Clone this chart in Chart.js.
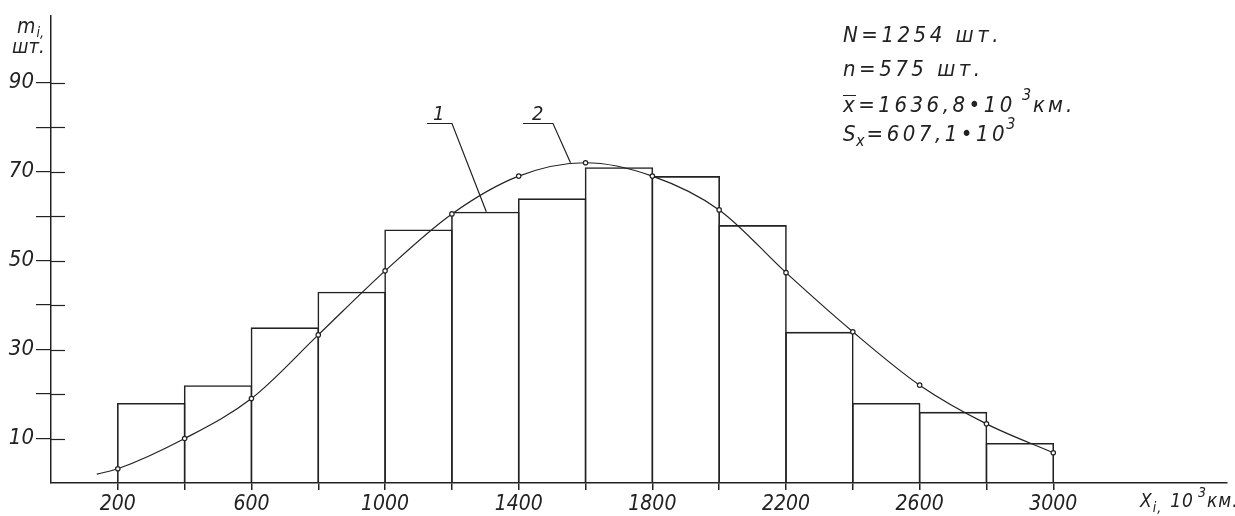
<!DOCTYPE html>
<html>
<head>
<meta charset="utf-8">
<script src="https://cdn.jsdelivr.net/npm/chart.js@4.4.1/dist/chart.umd.min.js"></script>
<style>
  html, body { margin: 0; padding: 0; background: #fff; }
  canvas { display: block; }
</style>
</head>
<body>
<canvas id="histChart" width="1235" height="516"></canvas>
<script>
// интервалы пробега (начало интервала), 10^3 км
const binStarts = [200, 400, 600, 800, 1000, 1200, 1400, 1600, 1800, 2000, 2200, 2400, 2600, 2800];
const binWidth = 200;
// эмпирические частоты m_i (сумма = 575)
const counts = [18, 22, 35, 43, 57, 61, 64, 71, 69, 58, 34, 18, 16, 9];
// теоретическая кривая (нормальный закон)
const curveX = [137, 200, 400, 600, 800, 1000, 1200, 1400, 1600, 1800, 2000, 2200, 2400, 2600, 2800, 3000];
const curveY = [2, 3.2, 10, 19, 33.3, 47.7, 60.5, 69, 72, 69, 61.4, 47.3, 34, 22, 13.3, 6.8];
// деления осей
const xTicks = [200, 400, 600, 800, 1000, 1200, 1400, 1600, 1800, 2000, 2200, 2400, 2600, 2800, 3000];
const xLabels = [200, 600, 1000, 1400, 1800, 2200, 2600, 3000];
const yTicks = [10, 20, 30, 40, 50, 60, 70, 80, 90];
const yLabels = [10, 30, 50, 70, 90];
const statLines = ["N=1254 шт.", "n=575 шт.", "=1636,8•10", "=607,1•10"];

const FONT = "'Liberation Sans Narrow', 'DejaVu Sans Condensed', 'Liberation Sans', sans-serif";
const INK = "#222";

function put(ctx, s, x, y, size, ls) {
  ctx.font = "italic " + size + "px " + FONT;
  ctx.letterSpacing = (ls || 0) + "px";
  ctx.fillText(s, x, y);
  return x + ctx.measureText(s).width;
}

const drawingPlugin = {
  id: "drawing",
  afterDraw(chart) {
    const ctx = chart.ctx;
    const xs = chart.scales.x, ys = chart.scales.y;
    const left = chart.chartArea.left;
    ctx.save();
    ctx.strokeStyle = INK;
    ctx.fillStyle = INK;
    ctx.textBaseline = "alphabetic";
    ctx.textAlign = "left";

    // деления оси Y внутри поля
    ctx.lineWidth = 1.2;
    yTicks.forEach(v => {
      const py = Math.round(ys.getPixelForValue(v)) + 0.5;
      ctx.beginPath();
      ctx.moveTo(left, py);
      ctx.lineTo(left + 14, py);
      ctx.stroke();
    });

    // подпись оси Y
    let x = put(ctx, "m", 17, 33, 21, 0);
    put(ctx, "i,", x + 1, 37, 14, 0);
    put(ctx, "шт.", 12, 53, 20, 0);

    // подпись оси X
    x = put(ctx, "X", 1140, 507, 19, 1);
    x = put(ctx, "i,", x, 512, 14, 1);
    x = put(ctx, "10", x + 8, 507, 19, 1);
    x = put(ctx, "3", x + 4, 497, 14, 1);
    put(ctx, "км.", x, 507, 19, 1);

    // статистика
    put(ctx, statLines[0], 843, 42, 22, 3.5);
    put(ctx, statLines[1], 843, 76, 22, 3.5);
    x = put(ctx, "x", 843, 112, 22, 3.5);
    ctx.lineWidth = 1;
    ctx.beginPath();
    ctx.moveTo(843, 95.5);
    ctx.lineTo(856, 95.5);
    ctx.stroke();
    x = put(ctx, statLines[2], x, 112, 22, 3.5);
    x = put(ctx, "3", x + 6, 100, 16, 2);
    put(ctx, "км.", x, 112, 22, 3);
    x = put(ctx, "S", 843, 141, 22, 3.5);
    x = put(ctx, "x", x - 3, 146, 16, 2);
    x = put(ctx, statLines[3], x, 141, 22, 3.5);
    put(ctx, "3", x - 2, 129, 16, 2);

    // выноски 1 и 2
    ctx.lineWidth = 1.2;
    const p1 = { x: xs.getPixelForValue(1303), y: ys.getPixelForValue(61) };
    const p2 = { x: xs.getPixelForValue(1555), y: ys.getPixelForValue(72) };
    ctx.beginPath();
    ctx.moveTo(427, 123.5); ctx.lineTo(452, 123.5); ctx.lineTo(p1.x, p1.y);
    ctx.moveTo(523, 123.5); ctx.lineTo(553, 123.5); ctx.lineTo(p2.x, p2.y);
    ctx.stroke();
    put(ctx, "1", 433, 120, 20, 0);
    put(ctx, "2", 532, 120, 20, 0);
    ctx.restore();
  }
};

const ctx = document.getElementById("histChart");
new Chart(ctx, {
  type: "bar",
  data: {
    datasets: [
      {
        type: "line",
        data: curveX.map((v, i) => ({ x: v, y: curveY[i] })),
        borderColor: INK,
        borderWidth: 1.2,
        cubicInterpolationMode: "monotone",
        pointRadius: c => (c.dataIndex === 0 ? 0 : 2.2),
        pointBackgroundColor: "#fff",
        pointBorderColor: INK,
        pointBorderWidth: 1.2,
        order: 0
      },
      {
        type: "bar",
        data: binStarts.map((v, i) => ({ x: v + binWidth / 2, y: counts[i] })),
        backgroundColor: "rgba(0,0,0,0)",
        borderColor: INK,
        borderWidth: 1.6,
        barPercentage: 1.024,
        categoryPercentage: 1,
        order: 1
      }
    ]
  },
  options: {
    responsive: false,
    animation: false,
    layout: { padding: { top: 16, right: 8, left: 0, bottom: 0 } },
    plugins: { legend: { display: false }, tooltip: { enabled: false } },
    scales: {
      x: {
        type: "linear",
        min: 0,
        max: 3520,
        offset: false,
        afterBuildTicks: s => { s.ticks = xTicks.map(v => ({ value: v })); },
        afterFit: s => { s.height = 33; },
        ticks: {
          autoSkip: false,
          maxRotation: 0,
          padding: 2,
          color: INK,
          font: { family: FONT, size: 21, style: "italic" },
          callback: v => (xLabels.includes(v) ? String(v) : "")
        },
        grid: { offset: false, drawOnChartArea: false, color: INK, lineWidth: 1.5, tickLength: 7 },
        border: { color: INK, width: 1.5 }
      },
      y: {
        min: 0,
        max: 105,
        afterBuildTicks: s => { s.ticks = yTicks.map(v => ({ value: v })); },
        afterFit: s => { s.width = 51; },
        ticks: {
          padding: 2,
          color: INK,
          font: { family: FONT, size: 22, style: "italic" },
          callback: v => (yLabels.includes(v) ? String(v) : "")
        },
        grid: { drawOnChartArea: false, color: INK, lineWidth: 1.2, tickLength: 15 },
        border: { color: INK, width: 1.5 }
      }
    }
  },
  plugins: [drawingPlugin]
});
</script>
</body>
</html>
